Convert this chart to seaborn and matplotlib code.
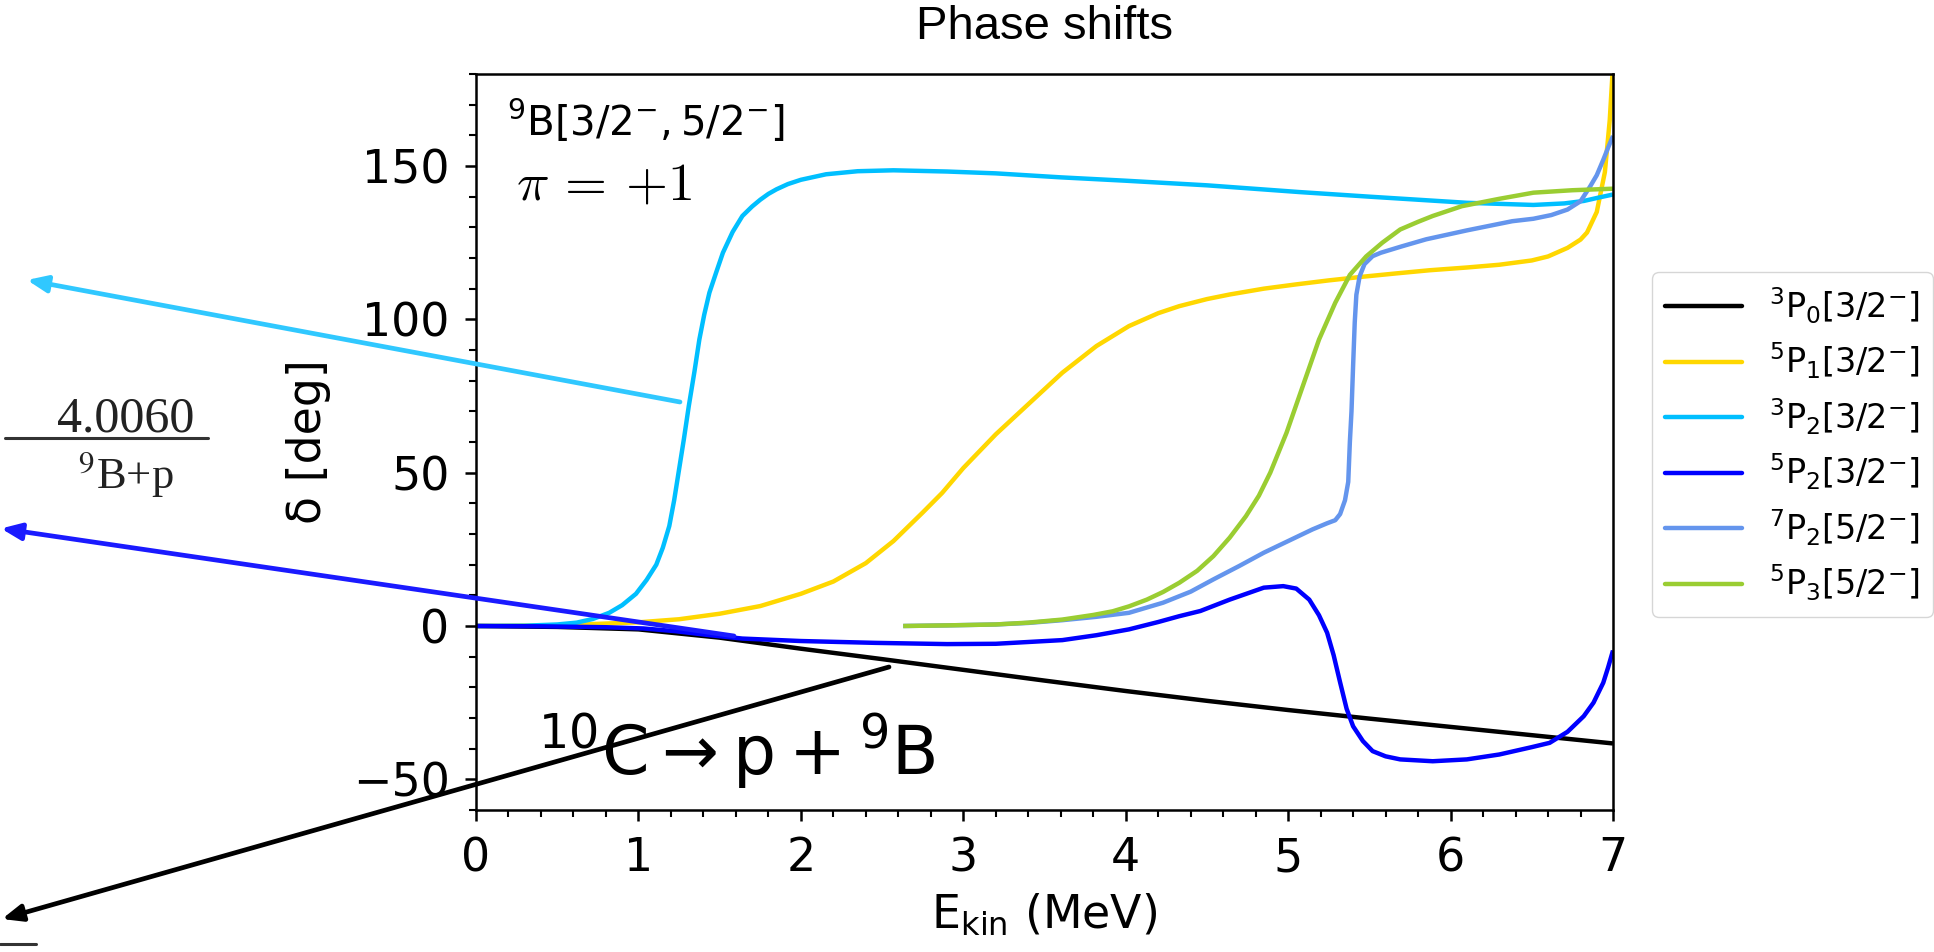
import numpy as np
import pandas as pd
import matplotlib
matplotlib.use("Agg")
import matplotlib.pyplot as plt
import seaborn as sns
from matplotlib.ticker import AutoMinorLocator
from matplotlib.patches import FancyArrowPatch
from matplotlib.lines import Line2D

# ---------------- data ----------------
labels = [r"$^3$P$_0$[3/2$^{-}$]", r"$^5$P$_1$[3/2$^{-}$]", r"$^3$P$_2$[3/2$^{-}$]",
          r"$^5$P$_2$[3/2$^{-}$]", r"$^7$P$_2$[5/2$^{-}$]", r"$^5$P$_3$[5/2$^{-}$]"]
colors = ["black", "gold", "deepskyblue", "blue", "cornflowerblue", "yellowgreen"]

E_3P0 = [0, 0.5, 1.0, 1.5, 2.0, 2.5, 3.0, 3.5, 4.0, 4.5, 5.0, 5.5, 6.0, 6.5, 7.0]
d_3P0 = [0, -0.3, -1.1, -3.8, -7.4, -10.8, -14.3, -17.8, -21.2, -24.4, -27.4, -30.2, -32.9, -35.6, -38.3]

E_5P1 = [0, 0.5, 1.0, 1.25, 1.5, 1.75, 2.0, 2.2, 2.4, 2.57, 2.75, 2.87, 3.0, 3.2, 3.41, 3.61,
         3.82, 4.02, 4.2, 4.33, 4.5, 4.64, 4.85, 5.05, 5.25, 5.46, 5.67, 5.87, 6.1, 6.3, 6.5,
         6.6, 6.72, 6.8, 6.84, 6.9, 6.95, 6.98, 7.0]
d_5P1 = [0, 0.2, 1.2, 2.2, 4.0, 6.5, 10.5, 14.5, 20.5, 27.7, 37.0, 43.4, 51.5, 62.5, 72.8, 82.6,
         91.3, 97.8, 102.0, 104.3, 106.6, 108.1, 110.0, 111.4, 112.7, 113.9, 115.0, 116.0, 116.9,
         117.8, 119.2, 120.5, 123.3, 126.0, 128.3, 135.0, 148.0, 165.0, 183.0]

E_3P2 = [0, 0.3, 0.5, 0.62, 0.72, 0.82, 0.9, 0.985, 1.05, 1.11, 1.15, 1.19, 1.22, 1.25, 1.28,
         1.31, 1.345, 1.375, 1.405, 1.437, 1.48, 1.52, 1.58, 1.64, 1.7, 1.75, 1.8, 1.85, 1.92,
         2.0, 2.155, 2.35, 2.57, 2.9, 3.2, 3.6, 4.0, 4.5, 5.07, 5.5, 6.1, 6.51, 6.7, 6.82,
         6.92, 7.0]
d_3P2 = [0, 0.1, 0.5, 1.1, 2.3, 4.3, 6.8, 10.5, 15.0, 20.0, 25.5, 32.6, 41.0, 51.0, 61.0,
         71.7, 83.0, 93.4, 101.5, 108.7, 115.5, 121.7, 128.5, 133.7, 136.8, 139.0, 140.9, 142.4,
         144.1, 145.5, 147.3, 148.3, 148.6, 148.2, 147.6, 146.3, 145.2, 143.7, 141.5, 140.0,
         138.0, 137.3, 137.8, 138.6, 139.8, 140.7]

E_5P2 = [0, 0.4, 0.8, 1.03, 1.23, 1.44, 1.64, 2.0, 2.46, 2.9, 3.2, 3.61, 3.82, 4.02, 4.2, 4.33,
         4.46, 4.64, 4.85, 4.97, 5.05, 5.13, 5.19, 5.24, 5.28, 5.32, 5.36, 5.40, 5.46, 5.52, 5.6,
         5.69, 5.89, 6.1, 6.3, 6.5, 6.61, 6.72, 6.82, 6.88, 6.94, 6.97, 7.0]
d_5P2 = [0, -0.1, -0.4, -0.8, -1.7, -3.0, -4.1, -4.9, -5.5, -5.9, -5.8, -4.6, -3.0, -1.1, 1.3,
         3.2, 4.9, 8.6, 12.5, 13.0, 12.2, 8.6, 3.5, -2.2, -9.5, -18.4, -27.0, -32.7, -37.5,
         -40.8, -42.5, -43.5, -44.1, -43.5, -41.9, -39.5, -38.1, -34.5, -29.4, -25.0, -18.5,
         -13.5, -8.0]

E_7P2 = [2.63, 2.9, 3.2, 3.4, 3.61, 3.82, 4.02, 4.23, 4.4, 4.54, 4.7, 4.85, 5.0, 5.15, 5.24,
         5.29, 5.32, 5.35, 5.37, 5.38, 5.39, 5.40, 5.41, 5.42, 5.44, 5.47, 5.52, 5.57, 5.7, 5.85,
         6.1, 6.38, 6.51, 6.62, 6.72, 6.8, 6.86, 6.9, 6.94, 6.97, 7.0]
d_7P2 = [0, 0.2, 0.5, 1.0, 1.9, 3.0, 4.3, 7.6, 11.2, 15.2, 19.6, 23.9, 27.7, 31.5, 33.5,
         34.5, 36.5, 41.0, 47.0, 60.0, 70.0, 85.0, 99.0, 108.0, 114.0, 118.0, 120.6, 121.7,
         123.8, 126.1, 129.0, 132.0, 132.8, 134.0, 135.8, 138.5, 143.4, 147.0, 152.0, 156.0, 159.8]

E_5P3 = [2.63, 2.9, 3.2, 3.4, 3.61, 3.8, 3.92, 4.02, 4.13, 4.23, 4.33, 4.44, 4.54, 4.64, 4.74,
         4.82, 4.89, 4.99, 5.09, 5.19, 5.29, 5.38, 5.48, 5.58, 5.69, 5.8, 5.89, 6.07, 6.3, 6.51,
         6.75, 7.0]
d_5P3 = [0, 0.2, 0.5, 1.1, 2.1, 3.6, 4.8, 6.4, 8.6, 11.1, 14.1, 18.0, 22.8, 28.8, 35.8, 42.5,
         50.0, 63.0, 78.2, 93.4, 105.4, 114.5, 120.5, 125.0, 129.3, 131.8, 133.7, 136.9, 139.3,
         141.3, 142.1, 142.6]

E_series = [E_3P0, E_5P1, E_3P2, E_5P2, E_7P2, E_5P3]
d_series = [d_3P0, d_5P1, d_3P2, d_5P2, d_7P2, d_5P3]

xticks = [0, 1, 2, 3, 4, 5, 6, 7]
yticks = [-50, 0, 50, 100, 150]

title_text = "Phase shifts"
xlabel_text = r"E$_{\rm kin}$ (MeV)"
ylabel_text = "δ [deg]"
note_nucleus = r"$^{9}\mathrm{B}[3/2^{-}, 5/2^{-}]$"
note_parity = r"$\pi$ = +1"
note_reaction = r"$^{10}\mathrm{C}\rightarrow\mathrm{p}+{}^{9}\mathrm{B}$"
frac_top = "4.0060"
frac_bottom = r"$^{9}$B+p"

# overlay arrows (figure pixels): tail -> head
arrow_colors = ["#30c8ff", "#1a1aff", "black"]
arrow_tails = [(680, 402), (734, 636), (889, 667)]
arrow_heads = [(27, 280), (1, 528.5), (2, 919)]

# ---------------- style ----------------
sns.set_theme(style="ticks")
plt.rcParams["font.family"] = ["DejaVu Sans"]
plt.rcParams["mathtext.fontset"] = "dejavusans"
for k in ["axes.edgecolor", "xtick.color", "ytick.color", "text.color", "axes.labelcolor"]:
    plt.rcParams[k] = "black"

W, H = 1934, 952
fig = plt.figure(figsize=(W / 100, H / 100), dpi=100)
ax = fig.add_axes([476 / W, 1 - 810 / H, (1613 - 476) / W, (810 - 74) / H])

frames = [pd.DataFrame({"E": e, "delta": d, "state": lab})
          for lab, e, d in zip(labels, E_series, d_series)]
df = pd.concat(frames, ignore_index=True)

LW = 3.2
sns.lineplot(data=df, x="E", y="delta", hue="state", hue_order=labels,
             palette=dict(zip(labels, colors)), estimator=None, sort=False,
             lw=LW, ax=ax, legend=False)
for ln in ax.get_lines():
    ln.set_solid_joinstyle("round")
    ln.set_solid_capstyle("butt")

ax.set_xlim(0, 7)
ax.set_ylim(-60, 180)
ax.set_xticks(xticks)
ax.set_yticks(yticks)
ax.xaxis.set_minor_locator(AutoMinorLocator(5))
ax.yaxis.set_minor_locator(AutoMinorLocator(5))
ax.tick_params(which="major", length=8, width=1.8, labelsize=33, pad=11, direction="out")
ax.tick_params(which="minor", length=5, width=1.5, direction="out")
for s in ax.spines.values():
    s.set_linewidth(1.8)
    s.set_color("black")

ax.set_xlabel(xlabel_text, fontsize=33, labelpad=8)
ax.set_ylabel(ylabel_text, fontsize=33, labelpad=16)
ax.set_title(title_text, fontsize=34, family="Liberation Sans", pad=25)

handles = [Line2D([], [], color=c, lw=LW) for c in colors]
ax.legend(handles, labels, loc="center left", bbox_to_anchor=(1.0343, 0.497),
          borderaxespad=0, fontsize=24, frameon=True, fancybox=True,
          edgecolor="0.8", framealpha=0.8, handlelength=2.3, labelspacing=0.45)

ax.text(0.027, 0.916, note_nucleus, transform=ax.transAxes, fontsize=29, va="baseline")
ax.text(0.035, 0.829, note_parity, transform=ax.transAxes, fontsize=39, va="baseline",
        family="cmr10", math_fontfamily="cm")
ax.text(0.0545, 0.0476, note_reaction, transform=ax.transAxes, fontsize=49, va="baseline")

# overlay: level scheme fragment on the left
fig.text(126 / W, 1 - 432 / H, frac_top, family="Liberation Serif", fontsize=36,
         ha="center", va="baseline", color="#222222")
fig.text(126 / W, 1 - 488 / H, frac_bottom, family="Liberation Serif", math_fontfamily="stix",
         fontsize=32, ha="center", va="baseline", color="#222222")
fig.add_artist(Line2D([5 / W, 208 / W], [1 - 438 / H, 1 - 438 / H], transform=fig.transFigure,
                      color="#333333", lw=2.2))
fig.add_artist(Line2D([0, 36 / W], [1 - 944 / H, 1 - 944 / H], transform=fig.transFigure,
                      color="#333333", lw=2.2))

for c, t, h in zip(arrow_colors, arrow_tails, arrow_heads):
    arr = FancyArrowPatch((t[0] / W, 1 - t[1] / H), (h[0] / W, 1 - h[1] / H),
                          transform=fig.transFigure,
                          arrowstyle="-|>,head_length=1.2,head_width=0.5",
                          mutation_scale=10, lw=3.4, color=c, shrinkA=0, shrinkB=0)
    fig.add_artist(arr)

fig.savefig("out.png", dpi=100)
